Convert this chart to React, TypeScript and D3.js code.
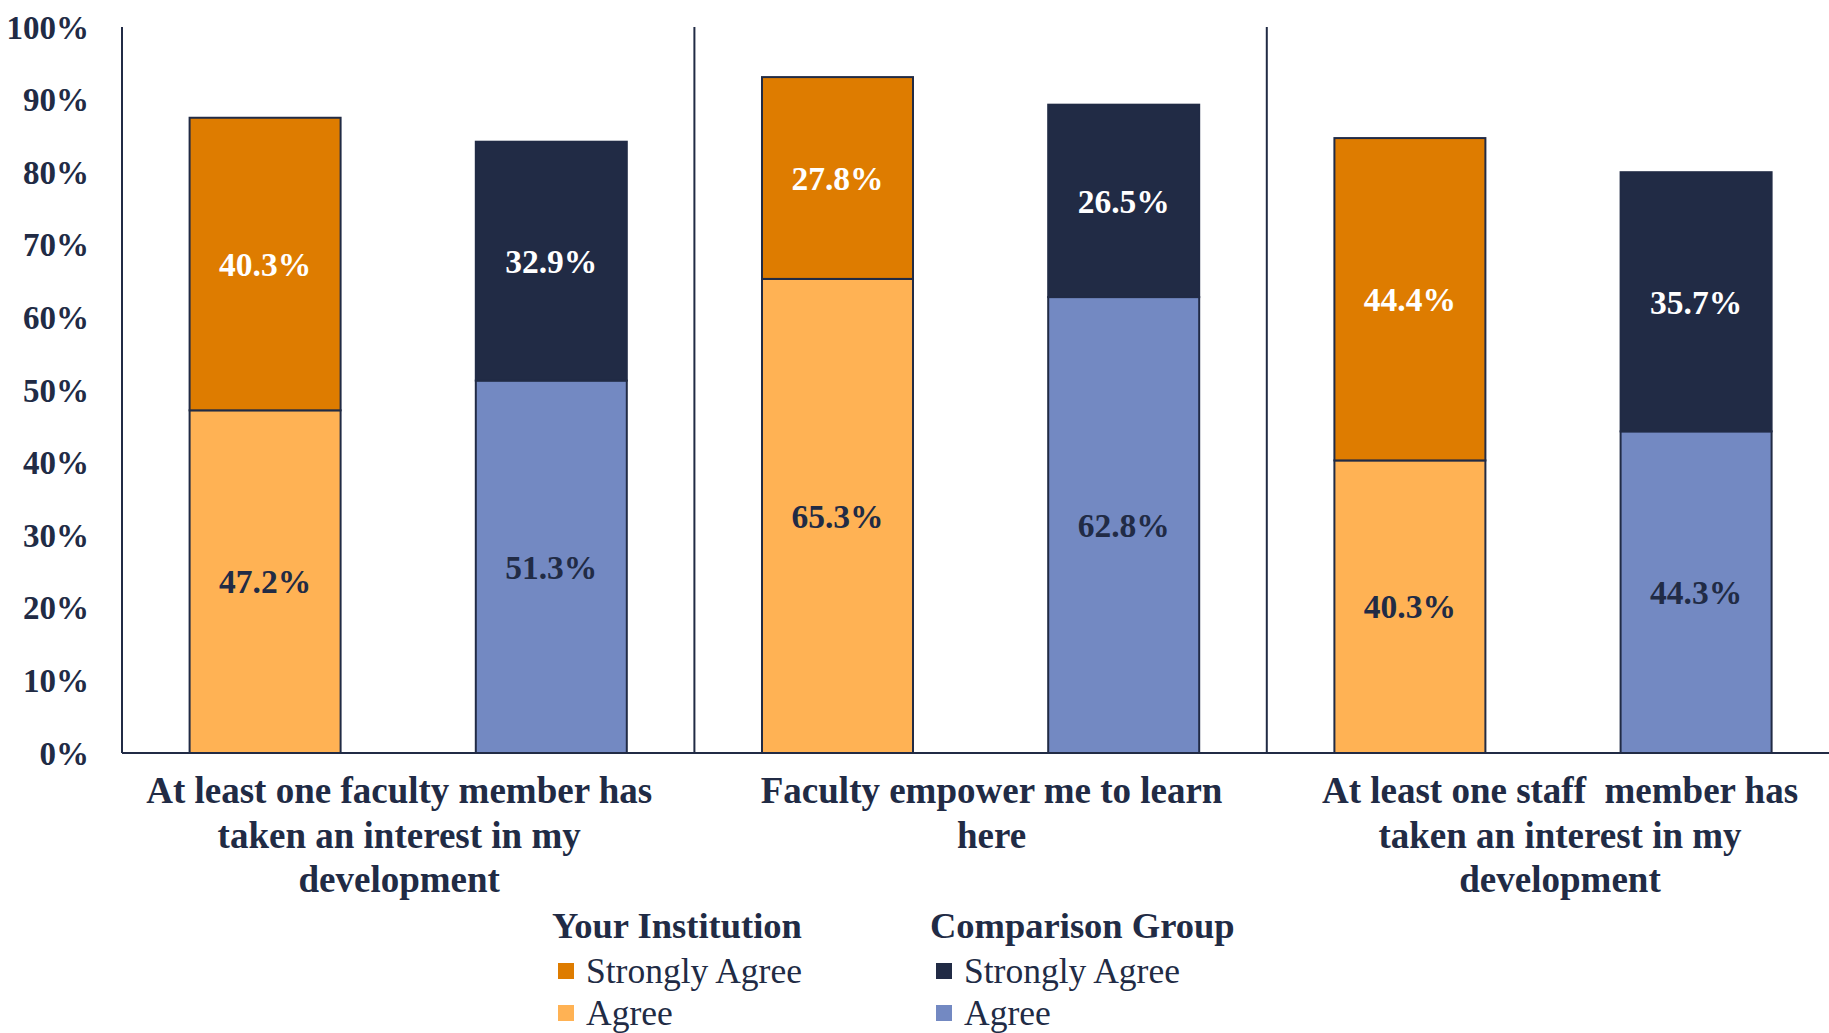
import React from "react";
import * as d3 from "d3";

const categories = [
  "At least one faculty member has taken an interest in my development",
  "Faculty empower me to learn here",
  "At least one staff member has taken an interest in my development",
];
const categoryLines = [
  ["At least one faculty member has", "taken an interest in my", "development"],
  ["Faculty empower me to learn", "here"],
  ["At least one staff  member has", "taken an interest in my", "development"],
];
const groups = ["Your Institution", "Comparison Group"];
const agreeValues = [
  [47.2, 51.3],
  [65.3, 62.8],
  [40.3, 44.3],
];
const stronglyAgreeValues = [
  [40.3, 32.9],
  [27.8, 26.5],
  [44.4, 35.7],
];
const tickValues = [0, 10, 20, 30, 40, 50, 60, 70, 80, 90, 100];
const legendItems = ["Strongly Agree", "Agree"];

const W = 1829;
const H = 1033;
const NAVY = "#212B45";
const colors = {
  inst: { strong: "#DE7C00", agree: "#FFB254" },
  comp: { strong: "#212B45", agree: "#7389C2" },
};
const FONT = "'Liberation Serif', 'DejaVu Serif', serif";
const labelDx = [-9, 11, 7];

export default function App() {
  const left = 122;
  const groupW = 572.4;
  const top = 27;
  const bottom = 753;

  const x0 = d3
    .scaleBand<string>()
    .domain(categories)
    .range([left, left + groupW * categories.length])
    .padding(0);
  const x1 = d3
    .scaleBand<string>()
    .domain(groups)
    .range([0, x0.bandwidth()])
    .paddingInner(0.4724)
    .paddingOuter(0.2362);
  const y = d3.scaleLinear().domain([0, 100]).range([bottom, top]);
  const fmt = (v: number) => `${v.toFixed(1)}%`;

  return (
    <svg
      width={W}
      height={H}
      style={{ position: "absolute", left: 0, top: 0, background: "#fff" }}
      fontFamily={FONT}
    >
      {/* y tick labels */}
      {tickValues.map((t) => (
        <text
          key={t}
          x={89}
          y={y(t)}
          dy="0.35em"
          textAnchor="end"
          fontSize={33}
          fontWeight="bold"
          fill={NAVY}
        >
          {t}%
        </text>
      ))}

      {/* bars */}
      {categories.map((c, ci) => (
        <g key={c} transform={`translate(${x0(c)},0)`}>
          {groups.map((g, gi) => {
            const a = agreeValues[ci][gi];
            const s = stronglyAgreeValues[ci][gi];
            const col = gi === 0 ? colors.inst : colors.comp;
            const bx = x1(g)!;
            const bw = x1.bandwidth();
            return (
              <g key={g}>
                <rect
                  x={bx}
                  y={y(a)}
                  width={bw}
                  height={y(0) - y(a)}
                  fill={col.agree}
                  stroke={NAVY}
                  strokeWidth={2}
                />
                <rect
                  x={bx}
                  y={y(a + s)}
                  width={bw}
                  height={y(a) - y(a + s)}
                  fill={col.strong}
                  stroke={NAVY}
                  strokeWidth={2}
                />
                <text
                  x={bx + bw / 2}
                  y={y(a / 2)}
                  dy="0.35em"
                  textAnchor="middle"
                  fontSize={33.5}
                  fontWeight="bold"
                  fill={NAVY}
                >
                  {fmt(a)}
                </text>
                <text
                  x={bx + bw / 2}
                  y={y(a + s / 2)}
                  dy="0.35em"
                  textAnchor="middle"
                  fontSize={33.5}
                  fontWeight="bold"
                  fill="#fff"
                >
                  {fmt(s)}
                </text>
              </g>
            );
          })}
        </g>
      ))}

      {/* axes and separators */}
      <line x1={left} x2={left} y1={top} y2={bottom} stroke={NAVY} strokeWidth={2} />
      {categories.slice(1).map((c) => (
        <line key={c} x1={x0(c)} x2={x0(c)} y1={top} y2={bottom} stroke={NAVY} strokeWidth={2} />
      ))}
      <line x1={left} x2={W} y1={bottom} y2={bottom} stroke={NAVY} strokeWidth={2} />

      {/* category labels */}
      {categories.map((c, ci) => (
        <text
          key={c}
          x={x0(c)! + x0.bandwidth() / 2 + labelDx[ci]}
          textAnchor="middle"
          fontSize={37}
          fontWeight="bold"
          fill={NAVY}
          style={{ whiteSpace: "pre" }}
        >
          {categoryLines[ci].map((ln, li) => (
            <tspan key={li} x={x0(c)! + x0.bandwidth() / 2 + labelDx[ci]} y={803 + li * 44.5}>
              {ln}
            </tspan>
          ))}
        </text>
      ))}

      {/* legend */}
      {groups.map((g, gi) => {
        const lx = gi === 0 ? 552 : 930;
        const col = gi === 0 ? colors.inst : colors.comp;
        return (
          <g key={g}>
            <text x={lx} y={938} fontSize={36.5} fontWeight="bold" fill={NAVY}>
              {g}
            </text>
            {legendItems.map((it, ii) => {
              const cy = 971 + ii * 42;
              return (
                <g key={it}>
                  <rect
                    x={lx + 6}
                    y={cy - 8}
                    width={16}
                    height={16}
                    fill={ii === 0 ? col.strong : col.agree}
                  />
                  <text x={lx + 34} y={cy} dy="0.35em" fontSize={35.5} fill={NAVY}>
                    {it}
                  </text>
                </g>
              );
            })}
          </g>
        );
      })}
    </svg>
  );
}
